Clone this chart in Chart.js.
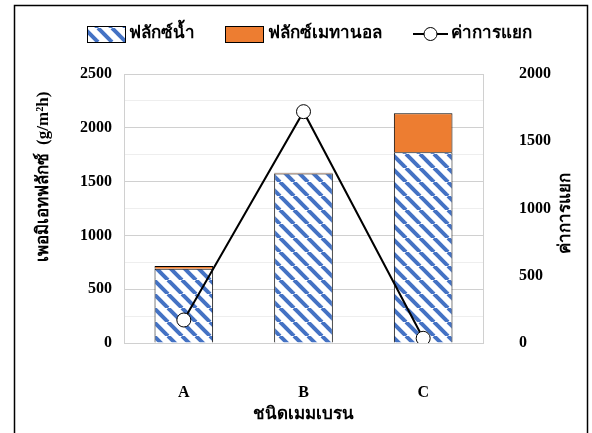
<!DOCTYPE html>
<html>
<head>
<meta charset="utf-8">
<script src="https://cdn.jsdelivr.net/npm/chart.js@4/dist/chart.umd.min.js"></script>
<style>
  html, body { margin: 0; padding: 0; background: #ffffff; }
  #wrap { position: relative; width: 592px; height: 433px; }
</style>
</head>
<body>
<div id="wrap"><canvas id="chart" width="592" height="433"></canvas></div>
<script>
// Chart data
const membranes = [ "A", "B", "C" ];
const waterFlux = [ 690, 1575, 1772 ];
const methanolFlux = [ 25, 8, 363 ];
const separationFactor = [ 171, 1720, 35 ];

const leftTicks = [ 0, 500, 1000, 1500, 2000, 2500 ];
const rightTicks = [ 0, 500, 1000, 1500, 2000 ];

const FONT = "'Liberation Serif', 'DejaVu Serif', 'Noto Sans', serif";
const BLUE = "#4472C4";
const ORANGE = "#ED7D31";

// Diagonal stripe fill used for the water flux bars
function makeStripes() {
  let size = 14;
  let tile = document.createElement( "canvas" );
  tile.width = size;
  tile.height = size;
  let c = tile.getContext( "2d" );
  c.fillStyle = "#ffffff";
  c.fillRect( 0, 0, size, size );
  c.strokeStyle = BLUE;
  c.lineWidth = 4;
  for ( let k = -1; k <= 1; k++ ) {
    c.beginPath();
    c.moveTo( k * size, 0 );
    c.lineTo( k * size + size, size );
    c.stroke();
  }
  return c.createPattern( tile, "repeat" );
}

const stripes = makeStripes();

// Legend, axis titles and frame drawn by hand to sit where the reference has them
const decorations = {
  id: "decorations",
  afterDraw( chart ) {
    let c = chart.ctx;
    c.save();

    // outer frame
    c.strokeStyle = "#000000";
    c.lineWidth = 1.5;
    c.strokeRect( 14.5, 5.5, 573, 440 );

    // legend
    c.font = "bold 17px " + FONT;
    c.textBaseline = "middle";
    c.fillStyle = "#000000";
    let ly = 34;

    c.fillStyle = stripes;
    c.fillRect( 87, 26, 38, 16 );
    c.strokeStyle = "#000000";
    c.lineWidth = 1;
    c.strokeRect( 87.5, 26.5, 38, 16 );
    c.fillStyle = "#000000";
    c.fillText( "ฟลักซ์น้ำ", 129, ly );

    c.fillStyle = ORANGE;
    c.fillRect( 225, 26, 38, 16 );
    c.strokeRect( 225.5, 26.5, 38, 16 );
    c.fillStyle = "#000000";
    c.fillText( "ฟลักซ์เมทานอล", 268, ly );

    c.lineWidth = 2;
    c.beginPath();
    c.moveTo( 413, ly );
    c.lineTo( 448, ly );
    c.stroke();
    c.beginPath();
    c.arc( 430.5, ly, 6.5, 0, Math.PI * 2 );
    c.fillStyle = "#ffffff";
    c.fill();
    c.lineWidth = 1;
    c.stroke();
    c.fillStyle = "#000000";
    c.fillText( "ค่าการแยก", 451, ly );

    // axis titles
    c.font = "bold 17px " + FONT;
    c.textAlign = "center";
    c.fillText( "ชนิดเมมเบรน", 303, 415 );

    c.save();
    c.translate( 44, 177 );
    c.rotate( -Math.PI / 2 );
    c.fillText( "เพอมิเอทฟลักซ์  (g/m²h)", 0, 0 );
    c.restore();

    c.save();
    c.translate( 566, 213 );
    c.rotate( -Math.PI / 2 );
    c.fillText( "ค่าการแยก", 0, 0 );
    c.restore();

    c.restore();
  }
};

new Chart( document.getElementById( "chart" ), {
  type: "bar",
  data: {
    labels: membranes,
    datasets: [
      {
        type: "line",
        label: "ค่าการแยก",
        data: separationFactor,
        yAxisID: "y1",
        borderColor: "#000000",
        borderWidth: 2,
        pointRadius: 7,
        pointBackgroundColor: "#ffffff",
        pointBorderColor: "#000000",
        pointBorderWidth: 1,
        tension: 0,
        order: 0
      },
      {
        label: "ฟลักซ์น้ำ",
        data: waterFlux,
        yAxisID: "y",
        backgroundColor: stripes,
        borderColor: "#000000",
        borderWidth: 1,
        barPercentage: 0.49,
        categoryPercentage: 1,
        stack: "flux",
        order: 1
      },
      {
        label: "ฟลักซ์เมทานอล",
        data: methanolFlux,
        yAxisID: "y",
        backgroundColor: ORANGE,
        borderColor: "#000000",
        borderWidth: 1,
        barPercentage: 0.49,
        categoryPercentage: 1,
        stack: "flux",
        order: 1
      }
    ]
  },
  options: {
    responsive: false,
    animation: false,
    layout: { padding: { top: 74, left: 0, right: 0, bottom: 0 } },
    plugins: {
      legend: { display: false },
      tooltip: { enabled: false }
    },
    scales: {
      x: {
        stacked: true,
        grid: { display: false },
        border: { color: "#d0d0d0", width: 1 },
        ticks: { color: "#000000", padding: 32, font: { family: FONT, size: 16, weight: "bold" } },
        afterFit( scale ) { scale.height = 90; }
      },
      y: {
        stacked: true,
        position: "left",
        min: 0,
        max: 2500,
        afterBuildTicks( scale ) {
          let ticks = [];
          for ( let v = 0; v <= 2500; v += 125 ) ticks.push( { value: v } );
          scale.ticks = ticks;
        },
        grid: {
          color: ( ctx ) => ( ctx.tick && ctx.tick.value % 500 === 0 ) ? "#d0d0d0" : "#eeeeee",
          lineWidth: 1,
          drawTicks: false
        },
        border: { color: "#d0d0d0", width: 1 },
        ticks: {
          color: "#000000",
          padding: 12,
          font: { family: FONT, size: 16, weight: "bold" },
          callback: ( v ) => leftTicks.includes( v ) ? String( v ) : ""
        },
        afterFit( scale ) { scale.width = 124; }
      },
      y1: {
        position: "right",
        min: 0,
        max: 2000,
        afterBuildTicks( scale ) {
          scale.ticks = rightTicks.map( ( v ) => ( { value: v } ) );
        },
        grid: { display: false },
        border: { color: "#d0d0d0", width: 1 },
        ticks: {
          color: "#000000",
          padding: 28,
          font: { family: FONT, size: 16, weight: "bold" },
          callback: ( v ) => String( v )
        },
        afterFit( scale ) { scale.width = 109; }
      }
    }
  },
  plugins: [ decorations ]
} );
</script>
</body>
</html>
